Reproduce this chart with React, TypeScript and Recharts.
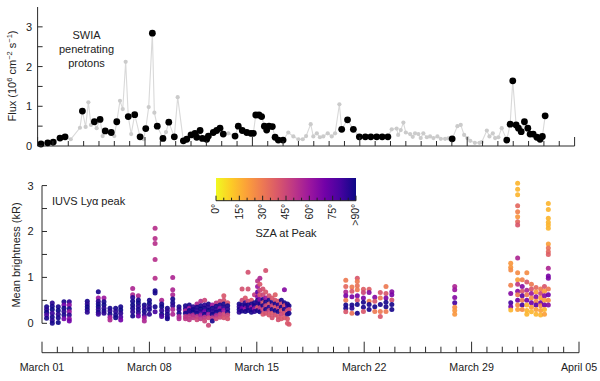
import React from "react";
import { ComposedChart, ScatterChart, Line, Scatter, XAxis, YAxis, ReferenceLine } from "recharts";

// SWIA penetrating proton flux: [day since March 01, flux (1e6 cm^-2 s^-1), IUVS coverage flag]
const swiaSamples: [number, number, number][] = [
  [0.22, 0.05, 1], [0.66, 0.08, 1], [1.02, 0.1, 1], [1.46, 0.2, 1], [1.79, 0.23, 1],
  [2.16, 0.17, 0], [2.76, 0.46, 0], [2.92, 0.88, 1], [3.13, 0.48, 0], [3.31, 1.1, 0],
  [3.48, 0.53, 0], [3.7, 0.61, 1], [3.85, 0.45, 0], [4.07, 0.67, 1], [4.24, 0.25, 0],
  [4.41, 0.38, 1], [4.8, 0.34, 1], [5.0, 0.25, 0], [5.16, 0.61, 1], [5.37, 1.14, 0],
  [5.55, 0.93, 0], [5.74, 2.12, 0], [5.91, 0.74, 1], [6.1, 0.3, 0], [6.33, 0.79, 1],
  [6.68, 0.23, 1], [6.9, 0.17, 0], [7.05, 0.44, 1], [7.24, 0.98, 0], [7.48, 2.84, 1],
  [7.61, 0.84, 0], [7.8, 0.5, 1], [8.17, 0.19, 1], [8.37, 0.35, 0], [8.55, 0.6, 1],
  [8.91, 0.23, 1], [9.13, 1.23, 0], [9.5, 0.13, 1], [9.72, 0.17, 1], [10.0, 0.28, 1],
  [10.26, 0.32, 1], [10.37, 0.22, 1], [10.59, 0.39, 1], [10.74, 0.19, 1], [11.02, 0.17, 1],
  [11.13, 0.25, 1], [11.45, 0.34, 1], [11.67, 0.39, 1], [11.89, 0.45, 1], [12.1, 0.3, 1],
  [12.43, 0.32, 0], [12.87, 0.25, 1], [13.08, 0.5, 1], [13.34, 0.39, 1], [13.63, 0.34, 1],
  [13.9, 0.32, 1], [14.06, 0.32, 1], [14.22, 0.78, 1], [14.43, 0.78, 1], [14.6, 0.74, 1],
  [14.78, 0.5, 1], [14.93, 0.4, 1], [15.08, 0.5, 1], [15.3, 0.49, 1], [15.48, 0.22, 1],
  [15.69, 0.15, 1], [16.0, 0.15, 1], [16.34, 0.34, 0], [16.67, 0.24, 0], [17.0, 0.17, 0],
  [17.28, 0.17, 0], [17.5, 0.25, 0], [17.8, 0.55, 0], [17.97, 0.24, 0], [18.2, 0.32, 0],
  [18.4, 0.22, 0], [18.62, 0.24, 0], [18.91, 0.32, 0], [19.17, 0.24, 0], [19.39, 0.32, 0],
  [19.67, 1.05, 0], [19.82, 0.42, 1], [20.2, 0.66, 1], [20.58, 0.42, 1], [20.97, 0.23, 1],
  [21.36, 0.23, 1], [21.72, 0.23, 1], [22.1, 0.23, 1], [22.46, 0.23, 1], [22.83, 0.23, 1],
  [23.08, 0.42, 0], [23.4, 0.44, 0], [23.5, 0.28, 0], [23.67, 0.4, 0], [23.84, 0.59, 0],
  [24.0, 0.34, 0], [24.28, 0.3, 0], [24.45, 0.23, 0], [24.6, 0.32, 0], [24.82, 0.3, 0],
  [24.97, 0.2, 0], [25.14, 0.32, 0], [25.37, 0.22, 0], [25.58, 0.24, 0], [25.8, 0.2, 0],
  [26.06, 0.24, 0], [26.28, 0.18, 0], [26.56, 0.18, 0], [26.77, 0.19, 0], [27.02, 0.18, 1],
  [27.36, 0.5, 0], [27.58, 0.53, 0], [27.8, 0.28, 0], [28.01, 0.2, 0], [28.2, 0.13, 0],
  [28.5, 0.08, 0], [28.8, 0.08, 0], [28.95, 0.1, 0], [29.28, 0.39, 0], [29.45, 0.24, 0],
  [29.67, 0.32, 0], [29.82, 0.2, 0], [30.03, 0.22, 0], [30.25, 0.45, 0], [30.58, 0.15, 1],
  [30.8, 0.55, 1], [30.97, 1.64, 1], [31.19, 0.53, 1], [31.34, 0.45, 1], [31.52, 0.36, 1],
  [31.73, 0.61, 1], [31.95, 0.45, 1], [32.1, 0.3, 1], [32.3, 0.3, 1], [32.54, 0.22, 1],
  [32.75, 0.17, 1], [32.9, 0.24, 1], [33.08, 0.76, 1],
];

// IUVS Ly-alpha peak brightness per orbit: [day, [[brightness kR, SZA deg], ...]]
const lyaOrbits: [number, [number, number][]][] = [
  [0.3, [[0.36, 88], [0.3, 85], [0.24, 90], [0.18, 80], [0.11, 88]]],
  [0.67, [[0.44, 85], [0.37, 88], [0.3, 90], [0.22, 82], [0.14, 88], [0.06, 85], [0.0, 88]]],
  [1.06, [[0.36, 88], [0.28, 90], [0.2, 85], [0.12, 88], [0.02, 90]]],
  [1.43, [[0.47, 88], [0.4, 70], [0.33, 90], [0.26, 85], [0.18, 88], [0.1, 70]]],
  [1.78, [[0.47, 85], [0.4, 65], [0.32, 88], [0.25, 60], [0.18, 85], [0.1, 65], [0.05, 70]]],
  [2.95, [[0.48, 88], [0.42, 85], [0.36, 90], [0.3, 88], [0.24, 85]]],
  [3.67, [[0.69, 88], [0.55, 60], [0.48, 85], [0.42, 88], [0.36, 90], [0.3, 85], [0.24, 88], [0.2, 82]]],
  [4.04, [[0.55, 60], [0.47, 88], [0.4, 90], [0.33, 85], [0.27, 88], [0.22, 85]]],
  [4.43, [[0.33, 88], [0.27, 85], [0.2, 88], [0.13, 60], [0.07, 55]]],
  [4.8, [[0.33, 88], [0.26, 85], [0.18, 88], [0.12, 90]]],
  [5.13, [[0.36, 88], [0.29, 90], [0.22, 85], [0.14, 80], [0.07, 70]]],
  [5.91, [[0.76, 55], [0.62, 55], [0.56, 85], [0.48, 88], [0.4, 90], [0.33, 88], [0.25, 85], [0.16, 88]]],
  [6.28, [[0.6, 55], [0.51, 88], [0.44, 90], [0.37, 85], [0.3, 88], [0.23, 85], [0.16, 70]]],
  [6.67, [[0.4, 88], [0.33, 85], [0.26, 88], [0.18, 85], [0.12, 60], [0.05, 55]]],
  [7.0, [[0.5, 88], [0.43, 90], [0.36, 85], [0.3, 88], [0.2, 85]]],
  [7.37, [[2.07, 52], [1.85, 52], [1.74, 52], [1.39, 52], [0.98, 52], [0.71, 88], [0.66, 88], [0.36, 88], [0.25, 80]]],
  [7.8, [[0.5, 55], [0.42, 88], [0.36, 90], [0.28, 85], [0.2, 88], [0.15, 80]]],
  [8.17, [[0.33, 88], [0.27, 85], [0.2, 88], [0.14, 85], [0.1, 88]]],
  [8.52, [[1.0, 55], [0.73, 55], [0.62, 55], [0.53, 88], [0.45, 88], [0.38, 85], [0.3, 55], [0.2, 55]]],
  [8.93, [[0.36, 88], [0.3, 85], [0.22, 88], [0.15, 55], [0.1, 55]]],
  [9.35, [[0.38, 88], [0.32, 85], [0.27, 55], [0.22, 88], [0.15, 50], [0.1, 50]]],
  [9.6, [[0.4, 88], [0.33, 60], [0.28, 88], [0.22, 85], [0.16, 50], [0.08, 50]]],
  [9.85, [[0.36, 85], [0.3, 88], [0.25, 90], [0.18, 55], [0.12, 50]]],
  [10.1, [[0.42, 55], [0.35, 88], [0.28, 85], [0.22, 88], [0.15, 50], [0.08, 45]]],
  [10.35, [[0.48, 52], [0.38, 88], [0.31, 90], [0.25, 85], [0.18, 60], [0.1, 50]]],
  [10.6, [[0.5, 45], [0.4, 85], [0.33, 88], [0.26, 70], [0.2, 88], [0.13, 50], [0.05, 45]]],
  [10.85, [[0.42, 88], [0.35, 85], [0.28, 90], [0.2, 60], [0.12, 45], [-0.04, 45]]],
  [11.1, [[0.4, 60], [0.33, 88], [0.26, 85], [0.2, 88], [0.12, 50], [0.05, 88]]],
  [11.35, [[0.44, 50], [0.37, 88], [0.3, 85], [0.24, 88], [0.17, 55], [0.1, 45]]],
  [11.6, [[0.48, 45], [0.4, 88], [0.33, 65], [0.27, 88], [0.2, 50], [0.13, 45]]],
  [11.85, [[0.6, 40], [0.5, 42], [0.42, 88], [0.34, 85], [0.28, 60], [0.2, 45], [0.12, 42]]],
  [12.1, [[0.45, 42], [0.38, 88], [0.31, 85], [0.24, 88], [0.18, 45], [0.1, 42]]],
  [12.85, [[0.42, 88], [0.36, 85], [0.3, 88], [0.24, 85]]],
  [13.04, [[0.75, 42], [0.5, 45], [0.4, 88], [0.33, 70], [0.27, 88]]],
  [13.25, [[0.55, 40], [0.45, 85], [0.38, 88], [0.32, 60], [0.26, 88]]],
  [13.43, [[1.11, 42], [0.75, 42], [0.48, 45], [0.4, 88], [0.34, 85], [0.28, 88]]],
  [13.65, [[0.5, 40], [0.42, 88], [0.35, 60], [0.3, 85], [0.24, 88]]],
  [13.85, [[0.62, 48], [0.45, 88], [0.38, 88], [0.32, 60], [0.26, 85]]],
  [14.05, [[0.92, 50], [0.8, 60], [0.68, 75], [0.58, 65], [0.5, 88], [0.42, 85], [0.35, 40], [0.28, 88]]],
  [14.2, [[0.98, 55], [0.85, 40], [0.72, 45], [0.62, 40], [0.52, 65], [0.42, 88], [0.34, 50], [0.25, 88]]],
  [14.4, [[0.75, 42], [0.62, 45], [0.52, 88], [0.45, 40], [0.38, 88], [0.3, 45], [0.2, 40]]],
  [14.58, [[1.15, 42], [0.68, 40], [0.55, 60], [0.46, 88], [0.38, 45], [0.3, 88], [0.22, 42]]],
  [14.8, [[0.6, 42], [0.5, 88], [0.42, 40], [0.35, 85], [0.28, 45], [0.18, 40]]],
  [15.0, [[0.55, 40], [0.45, 88], [0.38, 45], [0.3, 88], [0.22, 40], [0.12, 42]]],
  [15.2, [[0.62, 38], [0.5, 42], [0.42, 88], [0.35, 40], [0.28, 88], [0.18, 42]]],
  [15.4, [[0.48, 40], [0.4, 85], [0.33, 45], [0.26, 88], [0.15, 40], [0.08, 42]]],
  [15.6, [[0.5, 88], [0.42, 42], [0.35, 88], [0.28, 40], [0.2, 45], [0.1, 40]]],
  [15.8, [[0.73, 65], [0.45, 88], [0.38, 42], [0.3, 88], [0.22, 42], [0.12, 40]]],
  [16.0, [[0.42, 88], [0.35, 80], [0.28, 42], [0.2, 88], [0.1, 40], [0.0, 40]]],
  [16.1, [[0.38, 88], [0.3, 45], [0.22, 88], [-0.02, 40]]],
  [19.8, [[0.94, 30], [0.8, 35], [0.68, 55], [0.6, 68], [0.5, 30], [0.4, 88], [0.33, 88], [0.25, 40]]],
  [20.2, [[0.79, 30], [0.7, 40], [0.58, 68], [0.4, 88], [0.33, 85], [0.22, 32]]],
  [20.55, [[0.98, 40], [0.91, 30], [0.82, 32], [0.73, 30], [0.6, 68], [0.5, 42], [0.41, 88], [0.22, 88]]],
  [20.95, [[0.74, 38], [0.67, 45], [0.55, 68], [0.46, 88], [0.35, 88], [0.26, 40]]],
  [21.32, [[0.74, 38], [0.67, 65], [0.48, 30], [0.41, 88], [0.3, 88]]],
  [21.69, [[0.57, 65], [0.48, 40], [0.36, 88], [0.26, 30]]],
  [22.05, [[0.67, 40], [0.55, 30], [0.41, 88], [0.26, 30], [0.15, 40]]],
  [22.42, [[0.8, 30], [0.65, 40], [0.55, 68], [0.46, 88], [0.36, 88], [0.26, 30]]],
  [22.8, [[0.69, 65], [0.62, 68], [0.51, 42], [0.41, 88], [0.3, 88]]],
  [26.9, [[0.8, 55], [0.73, 60], [0.56, 65], [0.45, 80], [0.35, 25], [0.28, 22], [0.2, 22]]],
  [30.55, [[1.31, 22], [1.22, 22], [1.16, 25], [0.83, 28], [0.65, 65], [0.45, 80], [0.36, 70], [0.29, 15]]],
  [31.0, [[3.05, 15], [2.92, 15], [2.8, 15], [2.56, 35], [2.43, 28], [2.32, 22], [2.21, 35], [2.14, 40], [1.42, 55], [1.1, 25], [0.95, 20], [0.85, 50], [0.7, 65], [0.62, 30], [0.5, 70], [0.4, 25], [0.3, 20]]],
  [31.3, [[0.95, 28], [0.8, 65], [0.7, 40], [0.6, 75], [0.5, 30], [0.4, 80], [0.3, 25]]],
  [31.6, [[1.1, 25], [0.9, 40], [0.72, 55], [0.62, 30], [0.5, 70], [0.4, 15], [0.28, 15], [0.2, 15]]],
  [31.9, [[0.85, 30], [0.75, 40], [0.65, 60], [0.55, 25], [0.45, 70], [0.35, 20], [0.25, 15]]],
  [32.2, [[0.78, 35], [0.68, 20], [0.58, 65], [0.48, 25], [0.4, 75], [0.3, 20], [0.2, 15]]],
  [32.5, [[0.75, 30], [0.65, 45], [0.55, 20], [0.45, 70], [0.38, 25], [0.28, 20], [0.18, 15]]],
  [32.75, [[0.8, 40], [0.7, 20], [0.6, 65], [0.5, 20], [0.4, 70], [0.3, 15], [0.2, 20]]],
  [33.0, [[2.61, 15], [2.48, 15], [2.29, 15], [2.2, 15], [2.14, 15], [2.07, 15], [1.73, 20], [1.64, 32], [1.56, 35], [1.5, 38], [1.2, 55], [1.03, 68], [0.98, 68], [0.75, 30], [0.62, 70], [0.5, 25], [0.4, 65]]],
];

const dateLabels = ["March 01", "March 08", "March 15", "March 22", "March 29", "April 05"];
const fluxTicks = [0, 0.5, 1, 1.5, 2, 2.5, 3];
const brightTicks = [0, 0.5, 1, 1.5, 2, 2.5, 3];
const szaLabels = ["0°", "15°", "30°", "45°", "60°", "75°", ">90°"];

const dayTicks = Array.from({ length: 36 }, (_, i) => i);

const PLASMA = ["#0d0887", "#46039f", "#7201a8", "#9c179e", "#bd3786", "#d8576b", "#ed7953", "#fb9f3a", "#fdca26", "#f0f921"];

function hex(c: string) {
  return [1, 3, 5].map((i) => parseInt(c.slice(i, i + 2), 16));
}

function plasma(t: number) {
  const v = Math.max(0, Math.min(1, t)) * (PLASMA.length - 1);
  const i = Math.min(Math.floor(v), PLASMA.length - 2);
  const f = v - i;
  const a = hex(PLASMA[i]);
  const b = hex(PLASMA[i + 1]);
  return `rgb(${a.map((x, k) => Math.round(x + (b[k] - x) * f)).join(",")})`;
}

const szaColor = (sza: number) => plasma(1 - Math.min(sza, 90) / 90);

const swiaRows = swiaSamples.map(([day, flux, iuvs]) => ({ day, flux, iuvs }));
const swiaIuvsRows = swiaRows.filter((r) => r.iuvs === 1);
const lyaRows = lyaOrbits.flatMap(([day, pts]) => pts.map(([b, sza]) => ({ day, b, sza })));

const AXIS = "#2b2b2b";
const FONT = "'Liberation Sans', Arial, sans-serif";

function TopXTick({ x, y, payload }: any) {
  const major = payload.value % 7 === 0;
  return <line x1={x} x2={x} y1={y} y2={y - (major ? 9 : 5)} stroke={AXIS} />;
}

function BottomXTick({ x, y, payload }: any) {
  const major = payload.value % 7 === 0;
  return (
    <g>
      <line x1={x} x2={x} y1={y} y2={y - (major ? 11 : 6)} stroke={AXIS} />
      {major && (
        <text x={x} y={y + 18} textAnchor="middle" fontSize={10.7} fill="#222" fontFamily={FONT}>
          {dateLabels[payload.value / 7]}
        </text>
      )}
    </g>
  );
}

function makeYTick(offset: number) {
  return ({ x, y, payload }: any) => (
    <g>
      <line x1={x} x2={x + 5} y1={y} y2={y} stroke={AXIS} />
      {Number.isInteger(payload.value) && (
        <text x={x - offset} y={y + 4} textAnchor="end" fontSize={11} fill="#222" fontFamily={FONT}>
          {payload.value}
        </text>
      )}
    </g>
  );
}

const TopYTick = makeYTick(5.5);
const BottomYTick = makeYTick(8.5);

function Colorbar() {
  const x0 = 216;
  const w = 140;
  const y0 = 178;
  const h = 22.7;
  const stops = PLASMA.slice().reverse();
  const minor = Array.from({ length: 19 }, (_, i) => i);
  return (
    <g>
      <defs>
        <linearGradient id="szaGrad" x1="0" x2="1" y1="0" y2="0">
          {stops.map((c, i) => (
            <stop key={i} offset={i / (stops.length - 1)} stopColor={c} />
          ))}
        </linearGradient>
      </defs>
      <rect x={x0} y={y0} width={w} height={h} fill="url(#szaGrad)" />
      <line x1={x0} x2={x0 + w} y1={y0 + h} y2={y0 + h} stroke="#222" />
      {minor.map((i) => {
        const xx = x0 + (w * i) / 18;
        return <line key={i} x1={xx} x2={xx} y1={y0 + h} y2={y0 + h - (i % 3 === 0 ? 5 : 3)} stroke="#222" />;
      })}
      {szaLabels.map((s, i) => {
        const xx = x0 + (w * i) / 6 + 3.5;
        return (
          <text key={s} x={xx} y={y0 + h + 3} textAnchor="end" fontSize={10.5} fill="#222" fontFamily={FONT}
            transform={`rotate(-90 ${xx} ${y0 + h + 3})`}>
            {s}
          </text>
        );
      })}
      <text x={286} y={236.5} textAnchor="middle" fontSize={11} fill="#222" fontFamily={FONT}>SZA at Peak</text>
    </g>
  );
}

export default function App() {
  return (
    <div style={{ position: "absolute", left: 0, top: 0, width: 600, height: 381, background: "#fff", fontFamily: FONT }}>
      <div style={{ position: "absolute", left: 0, top: 0 }}>
        <ComposedChart width={600} height={160} data={swiaRows} margin={{ top: 7, right: 25.4, bottom: 0, left: 0 }}>
          <XAxis dataKey="day" type="number" domain={[0, 35]} ticks={dayTicks} interval={0} height={14}
            tickSize={0} tickMargin={0} tick={<TopXTick />} stroke={AXIS} />
          <YAxis type="number" domain={[0, 3.5]} ticks={fluxTicks} interval={0} width={37.6}
            tickSize={0} tickMargin={0} tick={<TopYTick />} stroke={AXIS} />
          <Line dataKey="flux" stroke="#d9d9d9" strokeWidth={1.1} isAnimationActive={false}
            dot={{ r: 2.1, fill: "#cbcbcb", stroke: "none" }} activeDot={false} />
          <Scatter data={swiaIuvsRows} dataKey="flux" isAnimationActive={false}
            shape={(p: any) => <circle cx={p.cx} cy={p.cy} r={3.4} fill="#000" />} />
        </ComposedChart>
      </div>
      <div style={{ position: "absolute", left: 0, top: 160 }}>
        <ScatterChart width={600} height={221} margin={{ top: 16.4, right: 21, bottom: 0, left: 0 }}>
          <XAxis dataKey="day" type="number" domain={[0, 35]} ticks={dayTicks} interval={0} height={28.3}
            tickSize={0} tickMargin={0} tick={<BottomXTick />} stroke={AXIS} />
          <YAxis dataKey="b" type="number" domain={[-0.64, 3.2]} allowDataOverflow ticks={brightTicks} interval={0}
            width={42} axisLine={false} tickSize={0} tickMargin={0} tick={<BottomYTick />} />
          <ReferenceLine segment={[{ x: 0, y: 0 }, { x: 0, y: 3 }]} stroke={AXIS} ifOverflow="visible" />
          <Scatter data={lyaRows} isAnimationActive={false}
            shape={(p: any) => <circle cx={p.cx} cy={p.cy} r={2.5} fill={szaColor(p.payload.sza)} fillOpacity={0.92} />} />
        </ScatterChart>
      </div>
      <svg width={600} height={381} style={{ position: "absolute", left: 0, top: 0, pointerEvents: "none" }}>
        <text x={16} y={76} textAnchor="middle" fontSize={11} fill="#222" fontFamily={FONT} transform="rotate(-90 16 76)">
          Flux (10<tspan dy={-4} fontSize={7.5}>6</tspan><tspan dy={4}> cm</tspan>
          <tspan dy={-4} fontSize={7.5}>−2</tspan><tspan dy={4}> s</tspan>
          <tspan dy={-4} fontSize={7.5}>−1</tspan><tspan dy={4}>)</tspan>
        </text>
        <text x={19.5} y={255} textAnchor="middle" fontSize={11} fill="#222" fontFamily={FONT} transform="rotate(-90 19.5 255)">
          Mean brightness (kR)
        </text>
        <text x={86.5} y={39} textAnchor="middle" fontSize={11} fill="#222" fontFamily={FONT}>SWIA</text>
        <text x={86.5} y={53} textAnchor="middle" fontSize={11} fill="#222" fontFamily={FONT}>penetrating</text>
        <text x={86.5} y={66.5} textAnchor="middle" fontSize={11} fill="#222" fontFamily={FONT}>protons</text>
        <text x={52} y={205} fontSize={11} fill="#222" fontFamily={FONT}>IUVS Lyα peak</text>
        <Colorbar />
      </svg>
    </div>
  );
}
